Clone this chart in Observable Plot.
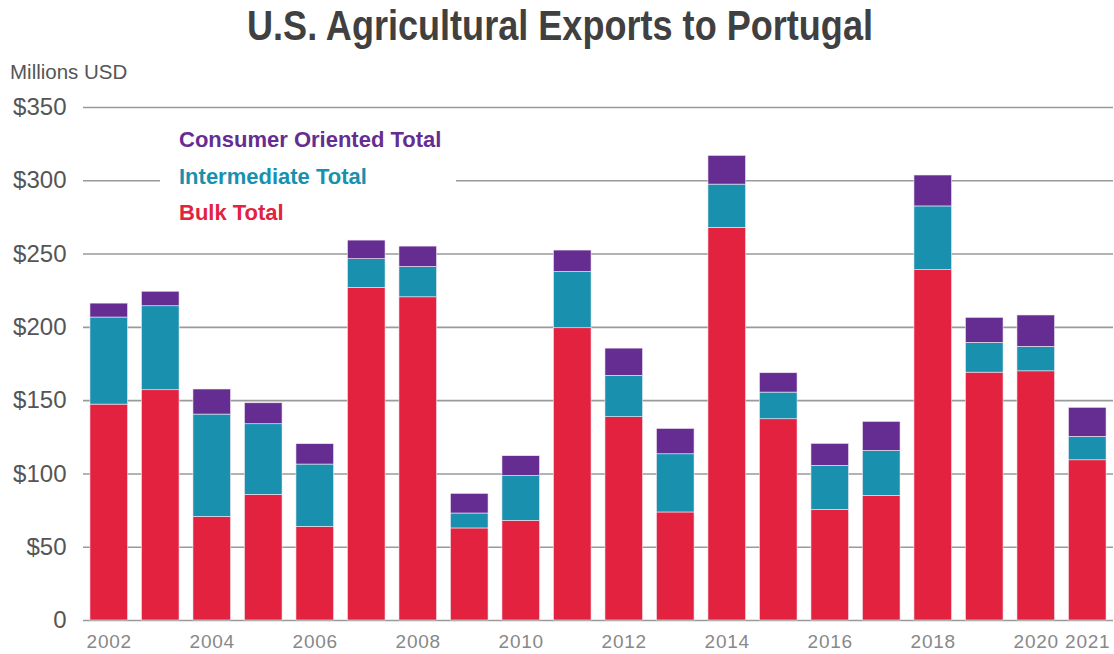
<!DOCTYPE html>
<html>
<head>
<meta charset="utf-8">
<script src="https://cdn.jsdelivr.net/npm/d3@7"></script>
<script src="https://cdn.jsdelivr.net/npm/@observablehq/plot@0.6"></script>
<style>
  html, body { margin: 0; padding: 0; background: #fff; }
  #wrap { position: relative; width: 1114px; height: 654px; font-family: "Liberation Sans", Arial, Helvetica, sans-serif; }
  #title { position: absolute; left: 0; top: 0; width: 1114px; height: 60px; }
  #title span { position: absolute; top: 2px; font-weight: bold; font-size: 42px; color: #404040; white-space: nowrap; transform-origin: 0 0; }
  #unit { position: absolute; left: 10px; top: 60px; font-size: 20.5px; color: #555; z-index: 3; }
  #plot { position: absolute; left: 0; top: 60px; z-index: 1; }
  #legend { position: absolute; left: 160px; top: 124px; width: 296px; height: 106px; background: #fff; z-index: 2; }
  #legend div { position: absolute; left: 19px; font-weight: bold; font-size: 22px; white-space: nowrap; }
</style>
</head>
<body>
<div id="wrap">
  <div id="title"><span id="titleText">U.S. Agricultural Exports to Portugal</span></div>
  <div id="unit">Millions USD</div>
  <div id="plot"></div>
  <div id="legend"></div>
</div>
<script>
const years = ["2002","2003","2004","2005","2006","2007","2008","2009","2010","2011","2012","2013","2014","2015","2016","2017","2018","2019","2020","2021"];
const bulk = [147.3,157.1,70.7,85.7,63.9,227.0,220.5,62.8,68.0,199.4,138.7,73.7,267.9,137.3,75.4,85.0,239.0,169.1,170.0,109.3];
const intermediate = [59.4,57.3,69.8,48.2,42.5,19.5,20.7,10.2,30.6,38.4,28.2,39.7,29.5,18.2,30.1,30.7,43.5,20.3,16.7,16.0];
const consumer = [9.5,9.9,17.1,14.3,13.9,12.7,13.9,13.4,13.5,14.6,18.6,17.3,19.6,13.2,15.0,19.8,21.1,17.1,21.4,19.8];
const categories = ["Bulk Total","Intermediate Total","Consumer Oriented Total"];
const colors = ["#E3223F","#1990AE","#652D91"];
const yTicks = [0,50,100,150,200,250,300,350];
const xTickLabels = ["2002","2004","2006","2008","2010","2012","2014","2016","2018","2020","2021"];

const series = [bulk, intermediate, consumer];
const rows = [];
years.forEach((yr, i) => {
  categories.forEach((c, k) => rows.push({year: yr, category: c, value: series[k][i]}));
});

const chart = Plot.plot({
  width: 1114,
  height: 594,
  marginTop: 47,
  marginBottom: 34,
  marginLeft: 83,
  marginRight: 1,
  style: {fontFamily: "'Liberation Sans', Arial, Helvetica, sans-serif", background: "#fff"},
  x: {domain: years, paddingInner: 0.27, paddingOuter: 0.135, round: false, label: null},
  y: {domain: [0, 350], label: null},
  color: {domain: categories, range: colors},
  marks: [
    Plot.ruleY(yTicks, {stroke: "#9a9a9a", strokeWidth: 1.6}),
    Plot.barY(rows, {x: "year", y: "value", fill: "category", stroke: "#f2e9f4", strokeWidth: 0.6, order: categories}),
    Plot.axisY({ticks: yTicks, tickSize: 0, tickPadding: 17, tickFormat: d => d === 0 ? "0" : "$" + d, fontSize: 24, color: "#555", label: null}),
    Plot.axisX({ticks: xTickLabels, tickSize: 0, tickPadding: 14, fontSize: 19, color: "#888", label: null})
  ]
});
document.getElementById("plot").appendChild(chart);
chart.querySelectorAll('g[aria-label="x-axis tick label"] text').forEach(t => t.style.letterSpacing = "0.8px");

// legend (top to bottom: consumer, intermediate, bulk)
const legend = document.getElementById("legend");
[2,1,0].forEach((k, j) => {
  const d = document.createElement("div");
  d.textContent = categories[k];
  d.style.color = colors[k];
  d.style.top = (3 + j * 36.5) + "px";
  legend.appendChild(d);
});

// fit condensed title width
const tt = document.getElementById("titleText");
const w = tt.getBoundingClientRect().width;
const target = 626;
const s = target / w;
tt.style.transform = `scaleX(${s})`;
tt.style.left = (560 - target / 2) + "px";
</script>
</body>
</html>
